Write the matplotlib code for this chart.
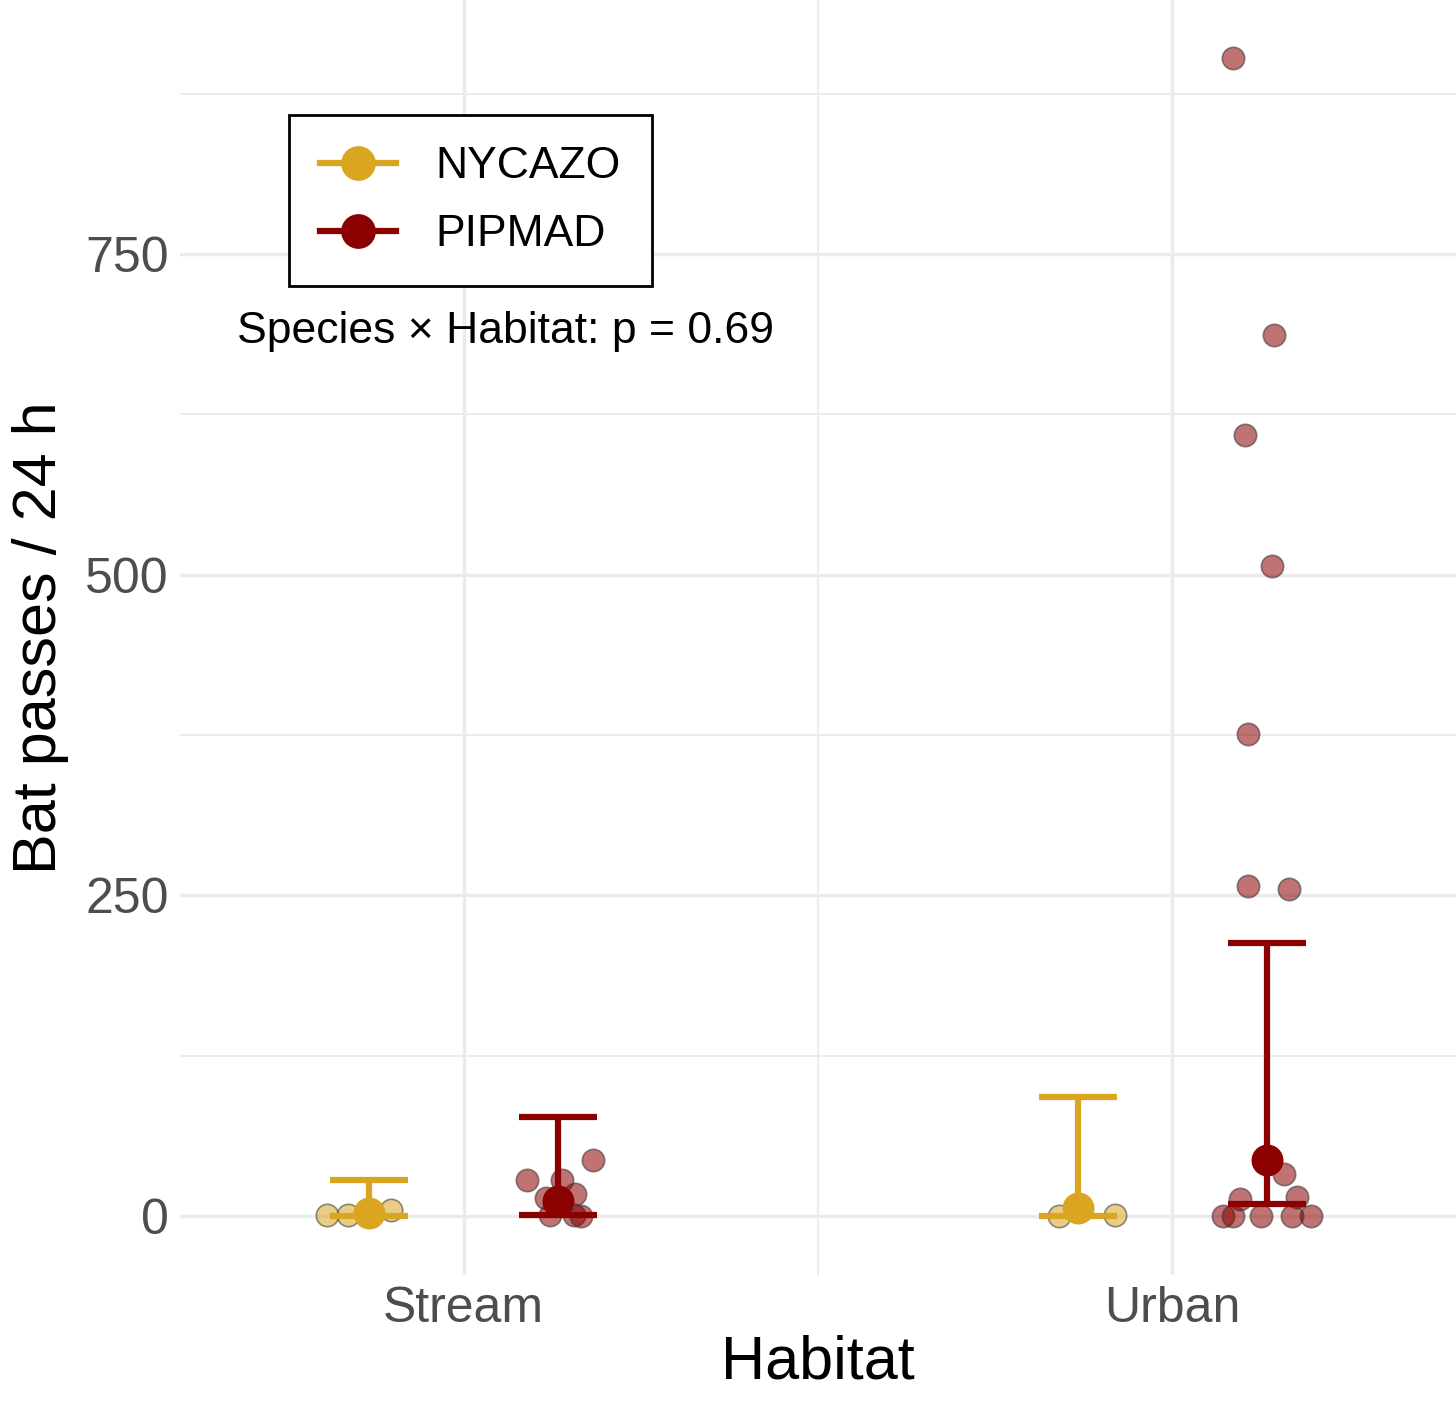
import matplotlib
matplotlib.use("Agg")
import matplotlib.pyplot as plt
from matplotlib.lines import Line2D
import numpy as np

plt.rcParams['font.family'] = ['Liberation Sans', 'DejaVu Sans']

habitats = ['Stream', 'Urban']
species = ['NYCAZO', 'PIPMAD']
colors = {'NYCAZO': '#DAA520', 'PIPMAD': '#8B0000'}

# mean and error-bar limits per species, per habitat
means = {'NYCAZO': [2, 6], 'PIPMAD': [12, 44]}
lower = {'NYCAZO': [0, 0], 'PIPMAD': [1, 9]}
upper = {'NYCAZO': [28, 93], 'PIPMAD': [77, 213]}

# raw observations with their jitter offsets (relative to dodged position)
raw = {
    ('NYCAZO', 'Stream'): ([1, 1, 5], [-0.06, -0.03, 0.03]),
    ('NYCAZO', 'Urban'): ([0, 1], [-0.027, 0.052]),
    ('PIPMAD', 'Stream'): ([28, 44, 28, 14, 17, 1, 1, 0],
                           [-0.044, 0.05, 0.006, -0.017, 0.024, -0.011, 0.023, 0.032]),
    ('PIPMAD', 'Urban'): ([903, 687, 609, 507, 376, 257, 255, 33, 13, 15, 0, 0, 0, 0, 0],
                          [-0.047, 0.01, -0.03, 0.007, -0.026, -0.027, 0.031, 0.024,
                           -0.037, 0.042, -0.061, -0.047, -0.008, 0.036, 0.063]),
}

dodge = {'NYCAZO': -0.133, 'PIPMAD': 0.133}

fig = plt.figure(figsize=(14.56, 14.02), dpi=100)
ax = fig.add_axes([180/1456, 127/1402, 1 - 180/1456, 1 - 127/1402])

for sp in species:
    for i, hab in enumerate(habitats):
        vals, jit = raw[(sp, hab)]
        xs = i + 1 + dodge[sp] + np.array(jit)
        ax.scatter(xs, vals, s=260, color=colors[sp], alpha=0.55,
                   edgecolors='#333333', linewidths=1.2, zorder=3)
    xpos = np.arange(1, len(habitats) + 1) + dodge[sp]
    m = np.array(means[sp])
    yerr = [m - np.array(lower[sp]), np.array(upper[sp]) - m]
    ax.errorbar(xpos, m, yerr=yerr, fmt='o', color=colors[sp], markersize=22,
                elinewidth=4.5, capsize=28, capthick=4.5, zorder=4)

ax.set_xlim(0.6, 2.4)
ax.set_ylim(-46, 948)
ax.set_xticks([1, 2])
ax.set_xticklabels(habitats)
ax.set_xticks([1.5], minor=True)
ax.set_yticks([0, 250, 500, 750])
ax.set_yticks([125, 375, 625, 875], minor=True)
ax.grid(True, which='major', color='#EBEBEB', linewidth=2.5)
ax.grid(True, which='minor', color='#EBEBEB', linewidth=1.3)
ax.set_axisbelow(True)
for s in ax.spines.values():
    s.set_visible(False)
ax.tick_params(which='both', length=0, labelsize=36, colors='#4D4D4D', pad=8)
ax.set_xlabel('Habitat', fontsize=44, labelpad=2)
ax.set_ylabel('Bat passes / 24 h', fontsize=44, labelpad=12)

handles = [Line2D([0], [0], color=colors[sp], marker='o', markersize=24,
                  linewidth=4.5) for sp in species]
leg = ax.legend(handles, species, loc='upper left', bbox_to_anchor=(0.068, 0.927),
                fontsize=32, frameon=True, fancybox=False, edgecolor='black',
                handlelength=1.7, borderpad=0.7, labelspacing=0.6, handletextpad=0.9)
leg.get_frame().set_linewidth(2)
leg.get_frame().set_alpha(1)

ax.text(0.045, 0.740, 'Species × Habitat: p = 0.69', transform=ax.transAxes,
        fontsize=32, ha='left', va='center')

fig.savefig('out.png', dpi=100)
